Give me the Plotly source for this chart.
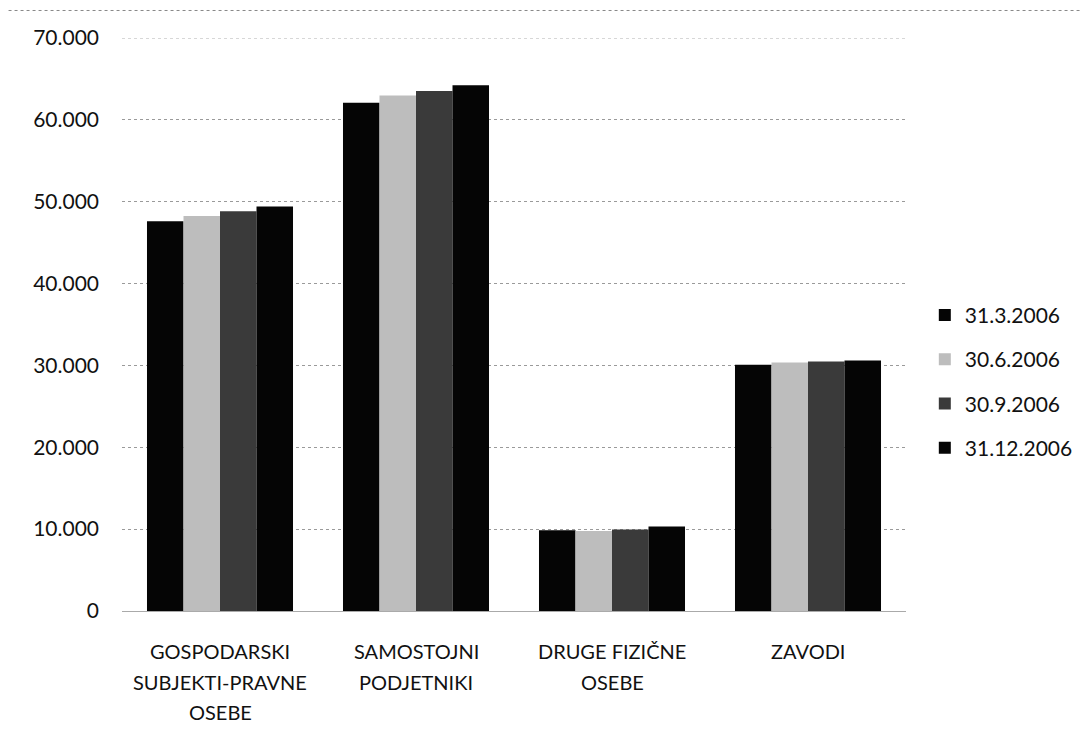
import plotly.graph_objects as go

categories = ["GOSPODARSKI<br>SUBJEKTI-PRAVNE<br>OSEBE", "SAMOSTOJNI<br>PODJETNIKI",
              "DRUGE FIZIČNE<br>OSEBE", "ZAVODI"]
series_names = ["31.3.2006", "30.6.2006", "30.9.2006", "31.12.2006"]
v_q1 = [47600, 62100, 9880, 30080]
v_q2 = [48260, 62970, 9760, 30370]
v_q3 = [48820, 63540, 9960, 30490]
v_q4 = [49430, 64230, 10330, 30610]
y_ticks = [0, 10000, 20000, 30000, 40000, 50000, 60000, 70000]

colors = ["#050505", "#bdbdbd", "#3a3a3a", "#050505"]
values = [v_q1, v_q2, v_q3, v_q4]

font_family = "Lato, 'Open Sans', sans-serif"

fig = go.Figure()
for i, (name, vals) in enumerate(zip(series_names, values)):
    fig.add_trace(go.Bar(
        x=categories, y=vals, name=name,
        marker=dict(color=colors[i], line=dict(width=0)),
        legendgroup=name,
    ))

fig.update_layout(
    width=1073, height=731,
    barmode="group", bargap=0.255, bargroupgap=0,
    plot_bgcolor="white", paper_bgcolor="white",
    separators=",.",
    margin=dict(l=114, r=175, t=30, b=128, autoexpand=False),
    font=dict(family=font_family, size=20, color="#111"),
    legend=dict(x=1.024, xanchor="left", y=0.40, yanchor="middle",
                font=dict(size=21, family=font_family),
                tracegroupgap=14, itemwidth=30),
    showlegend=True,
)
fig.update_yaxes(range=[0, 70000], tickvals=y_ticks, tickformat=",d",
                 showgrid=True, gridcolor="#9a9a9a", griddash="dot", gridwidth=1,
                 zeroline=False, showline=False, ticks="", ticklabelstandoff=22,
                 tickfont=dict(size=21))
fig.update_xaxes(showline=True, linecolor="#aaaaaa", linewidth=1, ticks="",
                 showticklabels=False)

# category labels, one annotation per text line (wider line spacing than Plotly's default)
for cat in categories:
    for j, line in enumerate(cat.split("<br>")):
        fig.add_annotation(x=cat, y=0, xref="x", yref="y", text=line, showarrow=False,
                           xanchor="center", yanchor="middle", yshift=-(40 + 30.5 * j),
                           font=dict(size=20, family=font_family, color="#111"))

fig.add_shape(type="line", xref="paper", yref="y", x0=0, x1=1, y0=70000, y1=70000,
              line=dict(color="#b0b0b0", width=1, dash="dot"))
fig.add_shape(type="line", xref="paper", yref="paper", x0=-0.16, x1=1.24, y0=1.048, y1=1.048,
              line=dict(color="#888888", width=1, dash="dot"))

fig.write_html("out.html")
